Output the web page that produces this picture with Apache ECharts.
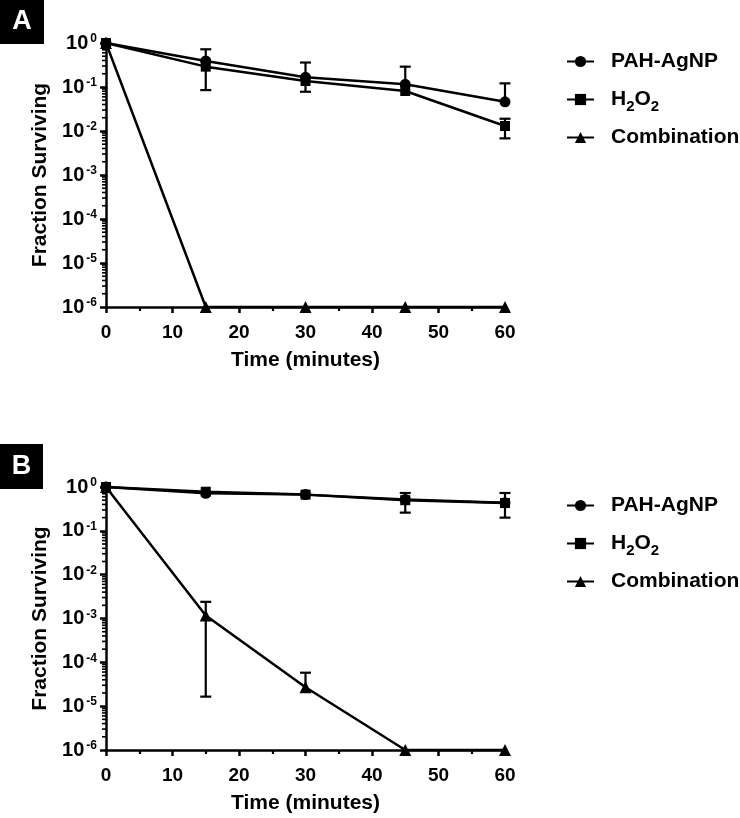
<!DOCTYPE html>
<html>
<head>
<meta charset="utf-8">
<script src="https://cdn.jsdelivr.net/npm/echarts@6/dist/echarts.min.js"></script>
<style>html,body{margin:0;padding:0;background:#fff}#c{width:740px;height:818px}</style>
</head>
<body>
<div id="c"></div>
<script>
// ---- data ----
var timePoints = [0, 15, 30, 45, 60];
var seriesNames = ['PAH-AgNP', 'H2O2', 'Combination'];
var xTicks = [0, 10, 20, 30, 40, 50, 60];
var yTickExponents = [0, -1, -2, -3, -4, -5, -6];

// Panel A
var pahA = [1, 0.39, 0.166, 0.115, 0.046];
var pahA_errLow = [null, null, null, null, null];
var pahA_errHigh = [null, 0.72, 0.36, 0.29, 0.121];
var h2o2A = [1, 0.29, 0.137, 0.081, 0.013];
var h2o2A_errLow = [null, 0.085, 0.078, null, 0.0068];
var h2o2A_errHigh = [null, null, null, null, 0.019];
var combA = [1, 1e-6, 1e-6, 1e-6, 1e-6];
var combA_errLow = [null, null, null, null, null];
var combA_errHigh = [null, null, null, null, null];

// Panel B
var pahB = [1, 0.72, 0.67, 0.52, 0.44];
var pahB_errLow = [null, null, null, null, null];
var pahB_errHigh = [null, null, null, 0.73, 0.73];
var h2o2B = [1, 0.78, 0.67, 0.5, 0.43];
var h2o2B_errLow = [null, null, null, 0.26, 0.2];
var h2o2B_errHigh = [null, null, null, null, null];
var combB = [1, 1.17e-3, 2.7e-5, 1e-6, 1e-6];
var combB_errLow = [null, 1.65e-5, null, null, null];
var combB_errHigh = [null, 2.4e-3, 5.8e-5, null, null];

// ---- helpers ----
var FONT = '"Liberation Sans", Arial, sans-serif';
function pairs(vals) { return timePoints.map(function (t, i) { return [t, vals[i]]; }); }
function errItems(vals, lo, hi) {
  var out = [];
  timePoints.forEach(function (t, i) {
    if (lo[i] == null && hi[i] == null) return;
    out.push([t, lo[i] == null ? vals[i] : lo[i], hi[i] == null ? vals[i] : hi[i], lo[i] == null ? 0 : 1, hi[i] == null ? 0 : 1]);
  });
  return out;
}
var minorTickVals = [];
for (var e = -6; e < 0; e++) { for (var m = 2; m <= 9; m++) { minorTickVals.push([0, m * Math.pow(10, e)]); } }

function errRender(params, api) {
  var x = api.value(0);
  var pLo = api.coord([x, api.value(1)]);
  var pHi = api.coord([x, api.value(2)]);
  var st = { stroke: '#000', lineWidth: 2.2 };
  var ch = [{ type: 'line', shape: { x1: pLo[0], y1: pLo[1], x2: pHi[0], y2: pHi[1] }, style: st }];
  var cw = 5.5;
  if (api.value(3)) ch.push({ type: 'line', shape: { x1: pLo[0] - cw, y1: pLo[1], x2: pLo[0] + cw, y2: pLo[1] }, style: st });
  if (api.value(4)) ch.push({ type: 'line', shape: { x1: pHi[0] - cw, y1: pHi[1], x2: pHi[0] + cw, y2: pHi[1] }, style: st });
  return { type: 'group', children: ch };
}
function minorRender(params, api) {
  var p = api.coord([api.value(0), api.value(1)]);
  return { type: 'line', shape: { x1: p[0] - 4, y1: p[1], x2: p[0], y2: p[1] }, style: { stroke: '#000', lineWidth: 1.6 } };
}

var symbols = ['circle', 'rect', 'triangle'];
var symSizes = [11, 10, 12];

function xAxisCfg(idx) {
  return {
    type: 'value', gridIndex: idx, min: 0, max: 60, interval: 10,
    name: 'Time (minutes)', nameLocation: 'middle', nameGap: 43,
    nameTextStyle: { fontFamily: FONT, fontWeight: 'bold', fontSize: 21, color: '#000' },
    axisLine: { onZero: false, lineStyle: { color: '#000', width: 2.5 } },
    axisTick: { length: 6, lineStyle: { color: '#000', width: 2.5 } },
    minorTick: { show: true, splitNumber: 2, length: 4, lineStyle: { color: '#000', width: 2.2 } },
    splitLine: { show: false }, minorSplitLine: { show: false },
    axisLabel: { margin: 16, fontFamily: FONT, fontWeight: 'bold', fontSize: 19, color: '#000' }
  };
}
function yAxisCfg(idx) {
  return {
    type: 'log', gridIndex: idx, logBase: 10, min: 1e-6, max: 1, splitNumber: 6,
    name: 'Fraction Surviving', nameLocation: 'middle', nameGap: 55,
    nameTextStyle: { fontFamily: FONT, fontWeight: 'bold', fontSize: 21, color: '#000' },
    axisLine: { lineStyle: { color: '#000', width: 2.5 } },
    axisTick: { length: 6, lineStyle: { color: '#000', width: 2.5 } },
    splitLine: { show: false },
    axisLabel: {
      margin: 9, color: '#000',
      formatter: function (v) { var ex = Math.round(Math.log10(v)); return '{b|10}{s|' + ex + '}'; },
      rich: {
        b: { fontFamily: FONT, fontWeight: 'bold', fontSize: 20, lineHeight: 20, color: '#000' },
        s: { fontFamily: FONT, fontWeight: 'bold', fontSize: 12, lineHeight: 12, verticalAlign: 'top', padding: [0, 0, 0, 2], color: '#000' }
      }
    }
  };
}
function legendCfg(top) {
  return {
    left: 566, top: top, padding: 0, orient: 'vertical', itemWidth: 27, itemHeight: 14, itemGap: 13,
    data: seriesNames,
    formatter: function (n) { return n === 'H2O2' ? '{n|H}{sub|2}{n|O}{sub|2}' : '{n|' + n + '}'; },
    textStyle: {
      padding: [0, 0, 0, 12],
      rich: {
        n: { fontFamily: FONT, fontWeight: 'bold', fontSize: 21, lineHeight: 24, color: '#000' },
        sub: { fontFamily: FONT, fontWeight: 'bold', fontSize: 15, lineHeight: 15, padding: [14, 0, 0, 0], color: '#000' }
      }
    }
  };
}

var panels = [
  { vals: [pahA, h2o2A, combA], lo: [pahA_errLow, h2o2A_errLow, combA_errLow], hi: [pahA_errHigh, h2o2A_errHigh, combA_errHigh] },
  { vals: [pahB, h2o2B, combB], lo: [pahB_errLow, h2o2B_errLow, combB_errLow], hi: [pahB_errHigh, h2o2B_errHigh, combB_errHigh] }
];

var series = [];
panels.forEach(function (p, gi) {
  series.push({ type: 'custom', xAxisIndex: gi, yAxisIndex: gi, renderItem: minorRender, data: minorTickVals, clip: false, silent: true, z: 1 });
  p.vals.forEach(function (v, si) {
    series.push({ type: 'custom', xAxisIndex: gi, yAxisIndex: gi, renderItem: errRender, data: errItems(v, p.lo[si], p.hi[si]), clip: false, silent: true, z: 3 });
    series.push({
      type: 'line', name: seriesNames[si], xAxisIndex: gi, yAxisIndex: gi, data: pairs(v),
      symbol: symbols[si], symbolSize: symSizes[si], showSymbol: true, clip: false,
      lineStyle: { color: '#000', width: 2.5 }, itemStyle: { color: '#000', borderWidth: 0 }, z: 4
    });
  });
});

var chart = echarts.init(document.getElementById('c'), null, { renderer: 'canvas' });
chart.setOption({
  animation: false,
  backgroundColor: '#fff',
  grid: [
    { left: 106, top: 43, width: 399, height: 264 },
    { left: 106, top: 487, width: 399, height: 263 }
  ],
  xAxis: [xAxisCfg(0), xAxisCfg(1)],
  yAxis: [yAxisCfg(0), yAxisCfg(1)],
  legend: [legendCfg(51), legendCfg(495)],
  graphic: [
    { type: 'rect', left: 0, top: 0, shape: { width: 44, height: 44 }, style: { fill: '#000' } },
    { type: 'text', x: 22, y: 22, style: { text: 'A', fill: '#fff', font: 'bold 27px ' + FONT, align: 'center', verticalAlign: 'middle' } },
    { type: 'rect', left: 0, top: 444, shape: { width: 43, height: 45 }, style: { fill: '#000' } },
    { type: 'text', x: 21.5, y: 466.5, style: { text: 'B', fill: '#fff', font: 'bold 27px ' + FONT, align: 'center', verticalAlign: 'middle' } }
  ],
  series: series
});
</script>
</body>
</html>
